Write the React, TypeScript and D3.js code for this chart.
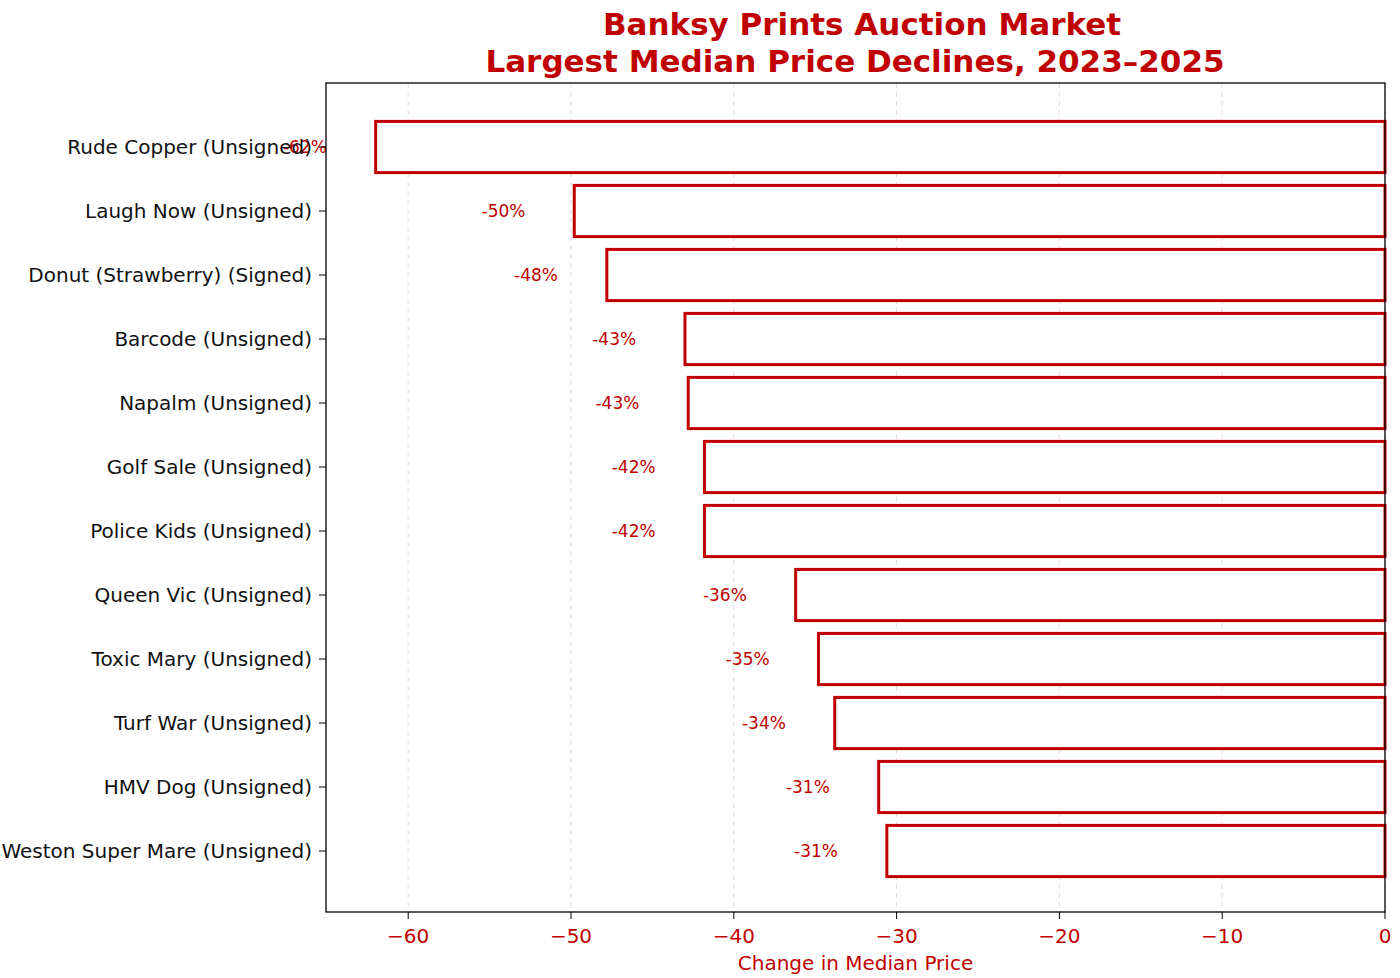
import * as d3 from "d3";

const categories = [
  "Rude Copper (Unsigned)",
  "Laugh Now (Unsigned)",
  "Donut (Strawberry) (Signed)",
  "Barcode (Unsigned)",
  "Napalm (Unsigned)",
  "Golf Sale (Unsigned)",
  "Police Kids (Unsigned)",
  "Queen Vic (Unsigned)",
  "Toxic Mary (Unsigned)",
  "Turf War (Unsigned)",
  "HMV Dog (Unsigned)",
  "Weston Super Mare (Unsigned)",
];
const changes = [-62.0, -49.8, -47.8, -43.0, -42.8, -41.8, -41.8, -36.2, -34.8, -33.8, -31.1, -30.6];
const xTicks = [-60, -50, -40, -30, -20, -10, 0];

const RED = "#c00000";
const FONT = "DejaVu Sans, sans-serif";

export default function App() {
  const W = 1400;
  const H = 978;
  const left = 326;
  const right = 1385;
  const top = 83;
  const bottom = 912;

  const x = d3.scaleLinear().domain([-65.05, 0]).range([left, right]);
  const y = d3
    .scaleBand<string>()
    .domain(categories)
    .range([115, 883])
    .paddingInner(0.2)
    .paddingOuter(0.1);

  return (
    <svg width={W} height={H} style={{ position: "absolute", left: 0, top: 0, background: "#fff" }} fontFamily={FONT}>
      <text x={862} y={35} textAnchor="middle" fontSize={31} fontWeight="bold" fill={RED}>
        Banksy Prints Auction Market
      </text>
      <text x={855} y={72} textAnchor="middle" fontSize={31} fontWeight="bold" fill={RED}>
        Largest Median Price Declines, 2023–2025
      </text>

      {xTicks.map((t) => (
        <line key={`g${t}`} x1={x(t)} x2={x(t)} y1={top} y2={bottom} stroke="#ddd" strokeDasharray="5,4" strokeWidth={1} />
      ))}

      {categories.map((c, i) => {
        const v = changes[i];
        const by = y(c) ?? 0;
        return (
          <g key={c}>
            <rect x={x(v)} y={by} width={x(0) - x(v)} height={y.bandwidth()} fill="#fff" stroke={RED} strokeWidth={3} />
            <text x={x(v - 3)} y={by + y.bandwidth() / 2 + 6} textAnchor="end" fontSize={17} fill={RED}>
              {`${Math.round(v)}%`}
            </text>
            <line x1={left - 7} x2={left} y1={by + y.bandwidth() / 2} y2={by + y.bandwidth() / 2} stroke="#000" />
            <text x={left - 14} y={by + y.bandwidth() / 2 + 7} textAnchor="end" fontSize={20} fill="#111">
              {c}
            </text>
          </g>
        );
      })}

      <rect x={left} y={top} width={right - left} height={bottom - top} fill="none" stroke="#000" strokeWidth={1.3} />

      {xTicks.map((t) => (
        <g key={`t${t}`}>
          <line x1={x(t)} x2={x(t)} y1={bottom} y2={bottom + 7} stroke="#000" />
          <text x={x(t)} y={bottom + 31} textAnchor="middle" fontSize={20} fill={RED}>
            {t < 0 ? `\u2212${-t}` : `${t}`}
          </text>
        </g>
      ))}
      <text x={(left + right) / 2} y={970} textAnchor="middle" fontSize={20} fill={RED}>
        Change in Median Price
      </text>
    </svg>
  );
}
